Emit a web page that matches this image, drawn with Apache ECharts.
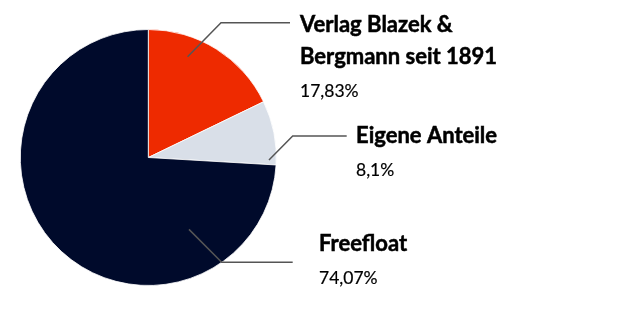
<!DOCTYPE html>
<html>
<head>
<meta charset="utf-8">
<style>
  html, body { margin: 0; padding: 0; background: #ffffff; }
  #chart { width: 640px; height: 311px; }
</style>
<script src="https://cdn.jsdelivr.net/npm/echarts@6/dist/echarts.min.js"></script>
</head>
<body>
<div id="chart"></div>
<script>
// ---- data ----
const categories = ['Verlag Blazek & Bergmann seit 1891', 'Eigene Anteile', 'Freefloat'];
const shares = [17.83, 8.1, 74.07];
const colors = ['#EE2A00', '#D9DFE8', '#000A2B'];

// ---- layout (pixels relative to pie centre) ----
const PIE = { cx: 148.3, cy: 157.5, r: 128 };
const guides = [
  { angle: 21.3, frac: 0.845, elbow: [72.7, -134.8], endX: 141.7, label: [151.7, -148.2] },
  { angle: 91.2, frac: 0.943, elbow: [144.4, -21.5], endX: 198.4, label: [207.7, -37.7] },
  { angle: 150.5, frac: 0.645, elbow: [73.4, 104.8], endX: 144.4, label: [170.7, 70.4] }
];
const TITLE_FONT = 'bold 22px Lato';
const MAX_LABEL_W = 215;

function pct(v) { return String(v).replace('.', ',') + '%'; }

const measureCtx = document.createElement('canvas').getContext('2d');
function wrap(text) {
  measureCtx.font = TITLE_FONT;
  const words = text.split(' ');
  const lines = [];
  let cur = '';
  words.forEach(w => {
    const t = cur ? cur + ' ' + w : w;
    if (cur && measureCtx.measureText(t).width > MAX_LABEL_W) { lines.push(cur); cur = w; }
    else cur = t;
  });
  if (cur) lines.push(cur);
  return lines;
}

function guidePoints(i) {
  const g = guides[i];
  const a = g.angle * Math.PI / 180;
  const sx = PIE.cx + Math.sin(a) * PIE.r * g.frac;
  const sy = PIE.cy - Math.cos(a) * PIE.r * g.frac;
  const ex = PIE.cx + g.elbow[0], ey = PIE.cy + g.elbow[1];
  return [[sx, sy], [ex, ey], [PIE.cx + g.endX, ey]];
}

const chart = echarts.init(document.getElementById('chart'), null, { renderer: 'canvas' });
chart.setOption({
  animation: false,
  graphic: guides.map((g, i) => ({
    type: 'polyline',
    z: 100,
    silent: true,
    shape: { points: guidePoints(i) },
    style: { stroke: '#555555', lineWidth: 1.5, fill: null }
  })),
  series: [{
    type: 'pie',
    center: [PIE.cx, PIE.cy],
    radius: PIE.r,
    startAngle: 90,
    clockwise: true,
    silent: true,
    avoidLabelOverlap: false,
    itemStyle: { borderColor: '#ffffff', borderWidth: 0.8 },
    emphasis: { disabled: true },
    data: categories.map((name, i) => ({ name: name, value: shares[i], itemStyle: { color: colors[i] } })),
    label: {
      show: true,
      position: 'outside',
      overflow: 'none',
      formatter: p => wrap(p.name).map(l => '{t|' + l + '}').join('\n') + '\n{p|' + pct(p.value) + '}',
      rich: {
        t: { fontFamily: 'Lato', fontWeight: 'bold', fontSize: 22, lineHeight: 32, color: '#000000',
             textBorderColor: '#000000', textBorderWidth: 0.5 },
        p: { fontFamily: 'Lato', fontWeight: 'normal', fontSize: 17.5, lineHeight: 37, color: '#000000',
             textBorderColor: '#000000', textBorderWidth: 0.2 }
      }
    },
    labelLine: { show: false },
    labelLayout: function (params) {
      const g = guides[params.dataIndex];
      return {
        x: PIE.cx + g.label[0],
        y: PIE.cy + g.label[1],
        align: 'left',
        verticalAlign: 'top'
      };
    }
  }]
});
</script>
</body>
</html>
